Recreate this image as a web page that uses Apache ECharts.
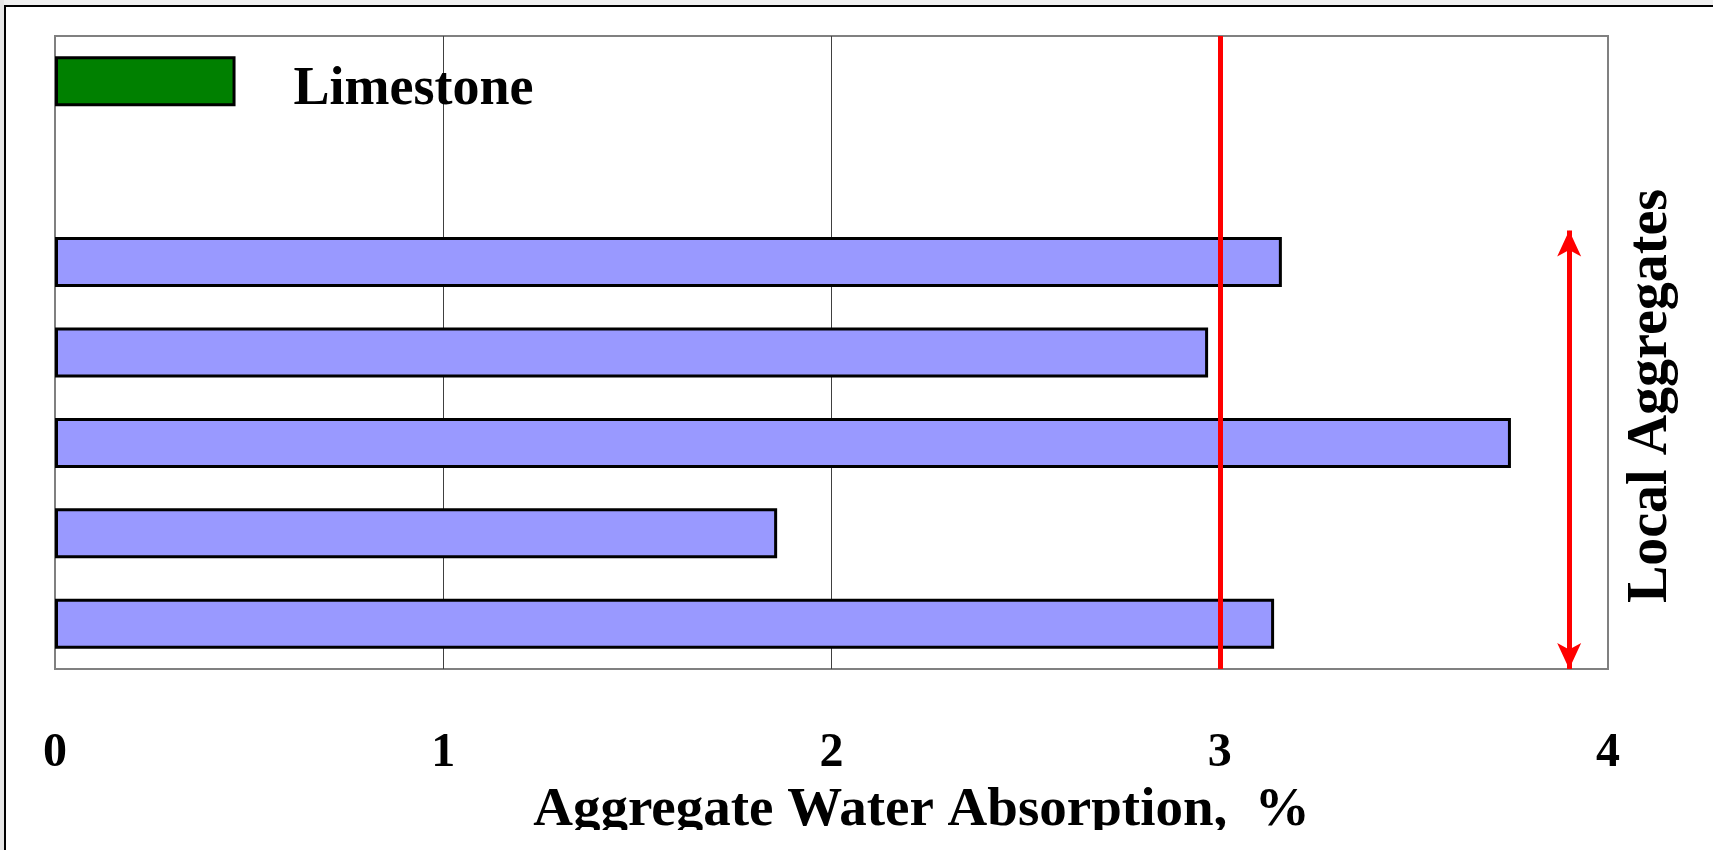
<!DOCTYPE html>
<html>
<head>
<meta charset="utf-8">
<script src="https://cdn.jsdelivr.net/npm/echarts@6/dist/echarts.min.js"></script>
<style>
html,body{margin:0;padding:0;background:#fff;}
#chart{width:1713px;height:850px;}
</style>
</head>
<body>
<div id="chart"></div>
<script>
// ---- data ----
const categories = ['Limestone', '', 'Local 1', 'Local 2', 'Local 3', 'Local 4', 'Local 5'];
const absorption = [0.465, null, 3.16, 2.97, 3.75, 1.86, 3.14];
const xTicks = [0, 1, 2, 3, 4];
const limitValue = 3.0;               // red vertical limit line
const arrowX = 3.9;                    // red double arrow position
const arrowSpan = [2.15, 7];           // arrow extent on band scale (0..7)
const xTitle = 'Aggregate Water Absorption,  %';
const groupTitle = 'Local Aggregates';

const FONT = "'Liberation Serif', 'Times New Roman', serif";
const chart = echarts.init(document.getElementById('chart'));

const barData = absorption.map((v, i) => ({
  value: v,
  itemStyle: { color: categories[i] === 'Limestone' ? '#008000' : '#9999FF' },
  label: { show: categories[i] === 'Limestone' }
}));

chart.setOption({
  animation: false,
  backgroundColor: '#ffffff',
  grid: {
    left: 55, right: 105, top: 36, bottom: 181,
    show: true, borderColor: '#808080', borderWidth: 2, backgroundColor: 'transparent'
  },
  xAxis: {
    type: 'value', min: xTicks[0], max: xTicks[xTicks.length - 1], interval: 1,
    axisLine: { show: false }, axisTick: { show: false },
    splitLine: { show: true, lineStyle: { color: ['#808080', '#404040', '#404040', '#404040', '#808080'], width: 1 } },
    axisLabel: { margin: 61, fontFamily: FONT, fontWeight: 'bold', fontSize: 48, color: '#000' },
    name: xTitle, nameLocation: 'middle', nameGap: 107,
    nameTextStyle: { fontFamily: FONT, fontWeight: 'bold', fontSize: 55, color: '#000', padding: [0, 0, 0, 180] }
  },
  yAxis: [
    {
      type: 'category', data: categories, inverse: true,
      axisLine: { show: false }, axisTick: { show: false }, axisLabel: { show: false }, splitLine: { show: false }
    },
    {
      type: 'value', min: 0, max: categories.length, inverse: true, show: false
    }
  ],
  series: [
    {
      type: 'bar', data: barData, barWidth: 50,
      itemStyle: { borderColor: '#000', borderWidth: 3 },
      label: {
        position: 'right', distance: 58, offset: [0, 9], formatter: '{b}',
        fontFamily: FONT, fontWeight: 'bold', fontSize: 54, color: '#000'
      },
      markLine: {
        silent: true, symbol: ['none', 'none'],
        label: { show: false },
        lineStyle: { color: '#FF0000', width: 5, type: 'solid' },
        data: [{ xAxis: limitValue }]
      }
    },
    {
      type: 'line', yAxisIndex: 1, data: [],
      markLine: {
        silent: true, symbol: ['arrow', 'arrow'], symbolSize: [18, 26],
        label: { show: false },
        lineStyle: { color: '#FF0000', width: 5, type: 'solid' },
        itemStyle: { color: '#FF0000' },
        data: [[{ coord: [arrowX, arrowSpan[0]] }, { coord: [arrowX, arrowSpan[1]] }]]
      }
    }
  ],
  graphic: [
    { type: 'rect', shape: { x: 0, y: 0, width: 1713, height: 5 }, style: { fill: '#f0f0f0' }, z: 100 },
    { type: 'rect', shape: { x: 0, y: 0, width: 4, height: 850 }, style: { fill: '#e6e6e6' }, z: 100 },
    { type: 'rect', shape: { x: 4, y: 5, width: 1709, height: 2 }, style: { fill: '#000' }, z: 101 },
    { type: 'rect', shape: { x: 4, y: 5, width: 2, height: 845 }, style: { fill: '#000' }, z: 101 },
    { type: 'rect', shape: { x: 6, y: 830, width: 1707, height: 20 }, style: { fill: '#fff' }, z: 99 },
    {
      type: 'text', x: 1652, y: 396, rotation: Math.PI / 2, z: 50,
      style: {
        text: groupTitle, fontFamily: FONT, fontWeight: 'bold', fontSize: 56, fill: '#000',
        textAlign: 'center', textVerticalAlign: 'middle'
      }
    }
  ]
});
</script>
</body>
</html>
